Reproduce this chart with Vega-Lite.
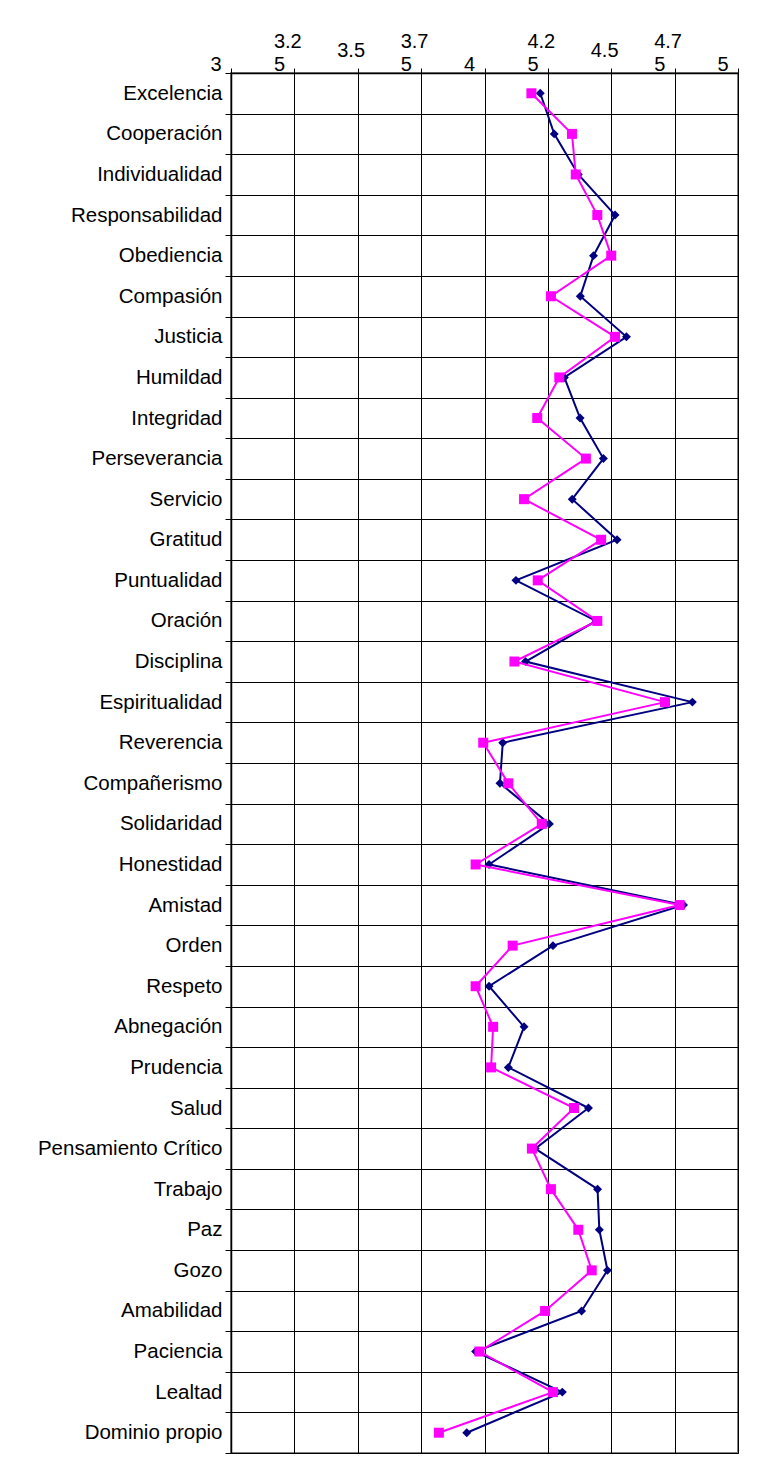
{
  "$schema": "https://vega.github.io/schema/vega-lite/v6.json",
  "autosize": "none",
  "padding": {"left": 231, "top": 73, "right": 29, "bottom": 11},
  "width": 507,
  "height": 1380,
  "background": "white",
  "config": {"view": {"stroke": "#808080", "strokeWidth": 2}, "font": "Liberation Sans"},
  "data": {"values": [
    {"cat": "Excelencia", "idx": 0, "series": "A", "value": 4.22}, {"cat": "Excelencia", "idx": 0, "series": "B", "value": 4.185},
    {"cat": "Cooperación", "idx": 1, "series": "A", "value": 4.275}, {"cat": "Cooperación", "idx": 1, "series": "B", "value": 4.345},
    {"cat": "Individualidad", "idx": 2, "series": "A", "value": 4.37}, {"cat": "Individualidad", "idx": 2, "series": "B", "value": 4.36},
    {"cat": "Responsabilidad", "idx": 3, "series": "A", "value": 4.515}, {"cat": "Responsabilidad", "idx": 3, "series": "B", "value": 4.445},
    {"cat": "Obediencia", "idx": 4, "series": "A", "value": 4.43}, {"cat": "Obediencia", "idx": 4, "series": "B", "value": 4.5},
    {"cat": "Compasión", "idx": 5, "series": "A", "value": 4.378}, {"cat": "Compasión", "idx": 5, "series": "B", "value": 4.262},
    {"cat": "Justicia", "idx": 6, "series": "A", "value": 4.56}, {"cat": "Justicia", "idx": 6, "series": "B", "value": 4.515},
    {"cat": "Humildad", "idx": 7, "series": "A", "value": 4.315}, {"cat": "Humildad", "idx": 7, "series": "B", "value": 4.295},
    {"cat": "Integridad", "idx": 8, "series": "A", "value": 4.377}, {"cat": "Integridad", "idx": 8, "series": "B", "value": 4.208},
    {"cat": "Perseverancia", "idx": 9, "series": "A", "value": 4.469}, {"cat": "Perseverancia", "idx": 9, "series": "B", "value": 4.4},
    {"cat": "Servicio", "idx": 10, "series": "A", "value": 4.346}, {"cat": "Servicio", "idx": 10, "series": "B", "value": 4.156},
    {"cat": "Gratitud", "idx": 11, "series": "A", "value": 4.523}, {"cat": "Gratitud", "idx": 11, "series": "B", "value": 4.46},
    {"cat": "Puntualidad", "idx": 12, "series": "A", "value": 4.124}, {"cat": "Puntualidad", "idx": 12, "series": "B", "value": 4.21},
    {"cat": "Oración", "idx": 13, "series": "A", "value": 4.44}, {"cat": "Oración", "idx": 13, "series": "B", "value": 4.445},
    {"cat": "Disciplina", "idx": 14, "series": "A", "value": 4.162}, {"cat": "Disciplina", "idx": 14, "series": "B", "value": 4.118},
    {"cat": "Espiritualidad", "idx": 15, "series": "A", "value": 4.82}, {"cat": "Espiritualidad", "idx": 15, "series": "B", "value": 4.712},
    {"cat": "Reverencia", "idx": 16, "series": "A", "value": 4.072}, {"cat": "Reverencia", "idx": 16, "series": "B", "value": 3.995},
    {"cat": "Compañerismo", "idx": 17, "series": "A", "value": 4.061}, {"cat": "Compañerismo", "idx": 17, "series": "B", "value": 4.094},
    {"cat": "Solidaridad", "idx": 18, "series": "A", "value": 4.256}, {"cat": "Solidaridad", "idx": 18, "series": "B", "value": 4.226},
    {"cat": "Honestidad", "idx": 19, "series": "A", "value": 4.018}, {"cat": "Honestidad", "idx": 19, "series": "B", "value": 3.965},
    {"cat": "Amistad", "idx": 20, "series": "A", "value": 4.785}, {"cat": "Amistad", "idx": 20, "series": "B", "value": 4.77},
    {"cat": "Orden", "idx": 21, "series": "A", "value": 4.27}, {"cat": "Orden", "idx": 21, "series": "B", "value": 4.111},
    {"cat": "Respeto", "idx": 22, "series": "A", "value": 4.018}, {"cat": "Respeto", "idx": 22, "series": "B", "value": 3.965},
    {"cat": "Abnegación", "idx": 23, "series": "A", "value": 4.156}, {"cat": "Abnegación", "idx": 23, "series": "B", "value": 4.034},
    {"cat": "Prudencia", "idx": 24, "series": "A", "value": 4.094}, {"cat": "Prudencia", "idx": 24, "series": "B", "value": 4.026},
    {"cat": "Salud", "idx": 25, "series": "A", "value": 4.41}, {"cat": "Salud", "idx": 25, "series": "B", "value": 4.353},
    {"cat": "Pensamiento Crítico", "idx": 26, "series": "A", "value": 4.2}, {"cat": "Pensamiento Crítico", "idx": 26, "series": "B", "value": 4.187},
    {"cat": "Trabajo", "idx": 27, "series": "A", "value": 4.446}, {"cat": "Trabajo", "idx": 27, "series": "B", "value": 4.262},
    {"cat": "Paz", "idx": 28, "series": "A", "value": 4.453}, {"cat": "Paz", "idx": 28, "series": "B", "value": 4.37},
    {"cat": "Gozo", "idx": 29, "series": "A", "value": 4.485}, {"cat": "Gozo", "idx": 29, "series": "B", "value": 4.423},
    {"cat": "Amabilidad", "idx": 30, "series": "A", "value": 4.383}, {"cat": "Amabilidad", "idx": 30, "series": "B", "value": 4.239},
    {"cat": "Paciencia", "idx": 31, "series": "A", "value": 3.965}, {"cat": "Paciencia", "idx": 31, "series": "B", "value": 3.98},
    {"cat": "Lealtad", "idx": 32, "series": "A", "value": 4.307}, {"cat": "Lealtad", "idx": 32, "series": "B", "value": 4.27},
    {"cat": "Dominio propio", "idx": 33, "series": "A", "value": 3.93}, {"cat": "Dominio propio", "idx": 33, "series": "B", "value": 3.82}
  ]},
  "encoding": {
    "y": {
      "field": "cat", "type": "nominal",
      "sort": {"field": "idx", "op": "min", "order": "ascending"},
      "scale": {"type": "band", "paddingInner": 0, "paddingOuter": 0},
      "bandPosition": 0.5,
      "axis": {
        "title": null, "tickBand": "extent", "grid": true, "gridColor": "#000000", "gridWidth": 1,
        "domainColor": "#000000", "domainWidth": 1.5, "tickColor": "#000000", "tickSize": 6,
        "labelFontSize": 20.5, "labelColor": "#000000", "labelPadding": 3, "labelFont": "Liberation Sans",
        "labelLimit": 400
      }
    },
    "x": {
      "field": "value", "type": "quantitative",
      "scale": {"domain": [3, 5], "nice": false, "zero": false},
      "axis": {
        "orient": "top", "title": null,
        "values": [3, 3.25, 3.5, 3.75, 4, 4.25, 4.5, 4.75, 5],
        "format": ".2~f",
        "labelExpr": "length(datum.label) > 3 ? [slice(datum.label, 0, 3), slice(datum.label, 3)] : datum.label",
        "labelAlign": "left", "labelOffset": -21, "labelBaseline": "bottom", "labelLineHeight": 23,
        "labelPadding": {"condition": [
          {"test": "datum.value == 3.5 || datum.value == 4.5", "value": 7.5},
          {"test": "datum.value == 3.25 || datum.value == 3.75 || datum.value == 4.25 || datum.value == 4.75", "value": 17}
        ], "value": -6},
        "labelFlush": false, "labelOverlap": false,
        "grid": true, "gridColor": "#000000", "gridWidth": 1,
        "tickSize": 5, "tickColor": "#000000", "domainColor": "#000000", "domainWidth": 1.5,
        "labelFontSize": 20, "labelColor": "#000000", "labelFont": "Liberation Sans"
      }
    },
    "order": {"field": "idx", "type": "quantitative"}
  },
  "layer": [
    {"transform": [{"filter": "datum.series == 'A'"}], "mark": {"type": "line", "color": "#000080", "strokeWidth": 2}, "encoding": {}},
    {"transform": [{"filter": "datum.series == 'A'"}], "mark": {"type": "point", "shape": "diamond", "filled": true, "color": "#000080", "size": 80, "opacity": 1}, "encoding": {}},
    {"transform": [{"filter": "datum.series == 'B'"}], "mark": {"type": "line", "color": "#FF00FF", "strokeWidth": 2}, "encoding": {}},
    {"transform": [{"filter": "datum.series == 'B'"}], "mark": {"type": "point", "shape": "square", "filled": true, "color": "#FF00FF", "size": 100, "opacity": 1}, "encoding": {}}
  ]
}
